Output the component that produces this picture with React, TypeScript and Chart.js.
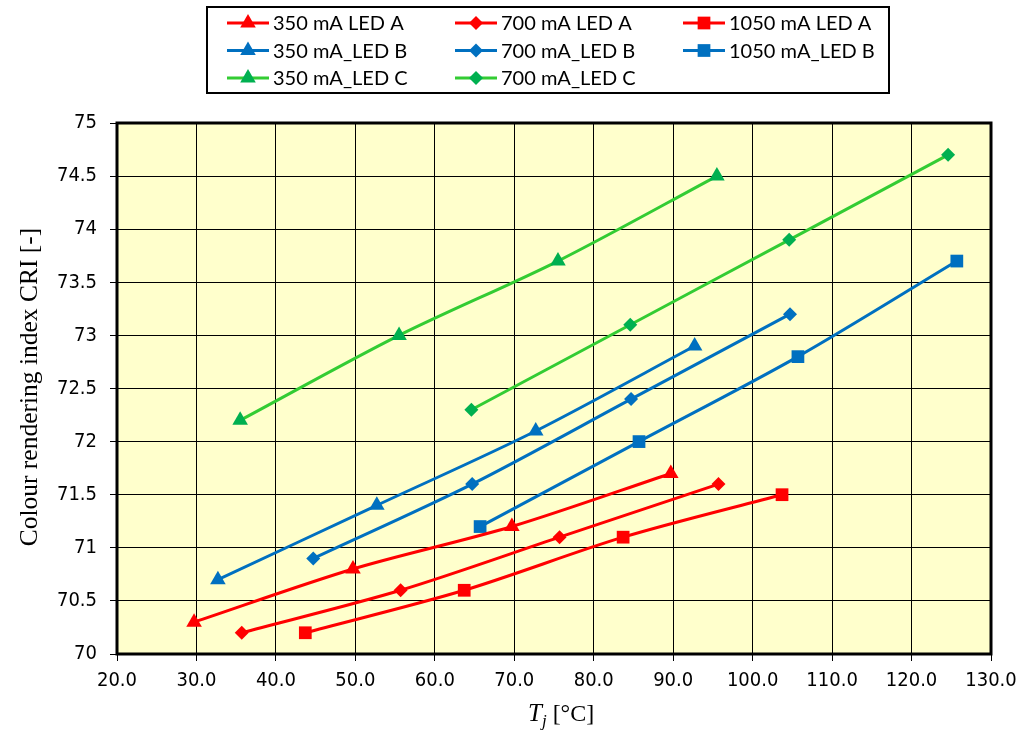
import { useEffect, useRef } from "react"
import { Chart, registerables, Plugin, PointStyle } from "chart.js"
import { drawPoint } from "chart.js/helpers"

Chart.register(...registerables)

// Junction temperature (°C) and CRI for each LED / drive current
const tj350A = [29.7, 49.7, 69.7, 89.7]
const cri350A = [70.3, 70.8, 71.2, 71.7]
const tj700A = [35.7, 55.7, 75.7, 95.7]
const cri700A = [70.2, 70.6, 71.1, 71.6]
const tj1050A = [43.7, 63.7, 83.7, 103.7]
const cri1050A = [70.2, 70.6, 71.1, 71.5]
const tj350B = [32.7, 52.7, 72.7, 92.7]
const cri350B = [70.7, 71.4, 72.1, 72.9]
const tj700B = [44.7, 64.7, 84.7, 104.7]
const cri700B = [70.9, 71.6, 72.4, 73.2]
const tj1050B = [65.7, 85.7, 105.7, 125.7]
const cri1050B = [71.2, 72.0, 72.8, 73.7]
const tj350C = [35.5, 55.5, 75.5, 95.5]
const cri350C = [72.2, 73.0, 73.7, 74.5]
const tj700C = [64.6, 84.6, 104.6, 124.6]
const cri700C = [72.3, 73.1, 73.9, 74.7]

const seriesNames = [
  "350 mA LED A", "700 mA LED A", "1050 mA LED A",
  "350 mA_LED B", "700 mA_LED B", "1050 mA_LED B",
  "350 mA_LED C", "700 mA_LED C",
]

const RED = "#FF0000"
const BLUE = "#0070C0"
const GREEN_LINE = "#33CC33"
const GREEN_MARK = "#00B050"

const TICK_FONT = '"DejaVu Sans Condensed", "Open Sans", sans-serif'

const toPoints = (xs: number[], ys: number[]) => xs.map((x, i) => ({ x, y: ys[i] }))

const markerRadius: Record<string, number> = { triangle: 9, rectRot: 7, rect: 9 }

function makeSet(label: string, xs: number[], ys: number[], line: string, mark: string, style: PointStyle) {
  return {
    label,
    data: toPoints(xs, ys),
    showLine: true,
    borderColor: line,
    borderWidth: 3,
    tension: 0.3,
    pointStyle: style,
    pointRadius: markerRadius[style as string],
    pointBackgroundColor: mark,
    pointBorderColor: mark,
    pointBorderWidth: 0,
  }
}

const plotDecor: Plugin<"scatter"> = {
  id: "plotDecor",
  beforeDraw(chart) {
    const { ctx, chartArea: a } = chart
    ctx.save()
    ctx.fillStyle = "#FFFFCC"
    ctx.fillRect(a.left, a.top, a.right - a.left, a.bottom - a.top)
    ctx.restore()
  },
  beforeDatasetsDraw(chart) {
    const { ctx, chartArea: a } = chart
    ctx.save()
    ctx.strokeStyle = "#000"
    ctx.lineWidth = 3
    ctx.strokeRect(a.left, a.top, a.right - a.left, a.bottom - a.top)
    ctx.restore()
  },
  afterDraw(chart) {
    const { ctx } = chart
    ctx.save()
    ctx.fillStyle = "#000"
    ctx.textBaseline = "alphabetic"

    // y title
    ctx.save()
    ctx.translate(37, 387)
    ctx.rotate(-Math.PI / 2)
    ctx.font = '25.5px "Liberation Serif"'
    ctx.textAlign = "center"
    ctx.fillText("Colour rendering index CRI [-]", 0, 0)
    ctx.restore()

    // x title: T_j [°C]
    let x = 528
    const base = 721
    ctx.textAlign = "left"
    ctx.font = 'italic 25px "Liberation Serif"'
    ctx.fillText("T", x, base)
    x += ctx.measureText("T").width
    ctx.font = 'italic 17px "Liberation Serif"'
    ctx.fillText("j", x, base + 5)
    x += ctx.measureText("j").width
    ctx.font = '24px "Liberation Serif"'
    ctx.fillText(" [°C]", x, base)

    // legend
    ctx.lineWidth = 2
    ctx.strokeStyle = "#000"
    ctx.strokeRect(207, 7, 682, 86)
    const colX = [227, 455, 683]
    const rowY = [23, 50.5, 78]
    ctx.font = '20px Lato'
    ctx.textBaseline = "middle"
    chart.data.datasets.forEach((ds: any, i) => {
      const cx = colX[i % 3]
      const cy = rowY[Math.floor(i / 3)]
      ctx.strokeStyle = ds.borderColor
      ctx.lineWidth = 3
      ctx.beginPath()
      ctx.moveTo(cx, cy)
      ctx.lineTo(cx + 42, cy)
      ctx.stroke()
      ctx.fillStyle = ds.pointBackgroundColor
      ctx.strokeStyle = ds.pointBorderColor
      ctx.lineWidth = 0.01
      drawPoint(ctx, { pointStyle: ds.pointStyle, radius: ds.pointRadius, borderWidth: 0, rotation: 0 }, cx + 21, cy)
      ctx.fillStyle = "#000"
      ctx.fillText(ds.label, cx + 46, cy + 1)
    })
    ctx.restore()
  },
}

export default function App() {
  const canvasRef = useRef<HTMLCanvasElement>(null)
  const chartInstance = useRef<Chart | null>(null)

  useEffect(() => {
    if (!canvasRef.current) return
    if (chartInstance.current) chartInstance.current.destroy()

    const datasets = [
      makeSet(seriesNames[0], tj350A, cri350A, RED, RED, "triangle"),
      makeSet(seriesNames[1], tj700A, cri700A, RED, RED, "rectRot"),
      makeSet(seriesNames[2], tj1050A, cri1050A, RED, RED, "rect"),
      makeSet(seriesNames[3], tj350B, cri350B, BLUE, BLUE, "triangle"),
      makeSet(seriesNames[4], tj700B, cri700B, BLUE, BLUE, "rectRot"),
      makeSet(seriesNames[5], tj1050B, cri1050B, BLUE, BLUE, "rect"),
      makeSet(seriesNames[6], tj350C, cri350C, GREEN_LINE, GREEN_MARK, "triangle"),
      makeSet(seriesNames[7], tj700C, cri700C, GREEN_LINE, GREEN_MARK, "rectRot"),
    ]

    chartInstance.current = new Chart(canvasRef.current, {
      type: "scatter",
      data: { datasets },
      options: {
        responsive: true,
        maintainAspectRatio: false,
        animation: false,
        layout: { padding: { top: 123, right: 38, left: 0, bottom: 0 } },
        plugins: {
          legend: { display: false },
          tooltip: { enabled: false },
        },
        scales: {
          x: {
            type: "linear",
            min: 20,
            max: 130,
            afterFit: (s) => { s.height = 78 },
            ticks: {
              stepSize: 10,
              padding: 8,
              color: "#000",
              font: { family: TICK_FONT, size: 20 },
              callback: (v) => Number(v).toFixed(1),
            },
            grid: { color: "#000", lineWidth: 1, tickLength: 7 },
            border: { display: false },
          },
          y: {
            type: "linear",
            min: 70,
            max: 75,
            afterFit: (s) => { s.width = 117 },
            ticks: {
              stepSize: 0.5,
              padding: 13,
              color: "#000",
              font: { family: TICK_FONT, size: 20 },
              callback: (v) => String(Number(v)),
            },
            grid: { color: "#000", lineWidth: 1, tickLength: 7 },
            border: { display: false },
          },
        },
      },
      plugins: [plotDecor],
    })

    return () => {
      if (chartInstance.current) {
        chartInstance.current.destroy()
        chartInstance.current = null
      }
    }
  }, [])

  return (
    <div style={{ position: "absolute", left: 0, top: 0, width: 1029, height: 732, background: "#fff" }}>
      <canvas ref={canvasRef} />
    </div>
  )
}
